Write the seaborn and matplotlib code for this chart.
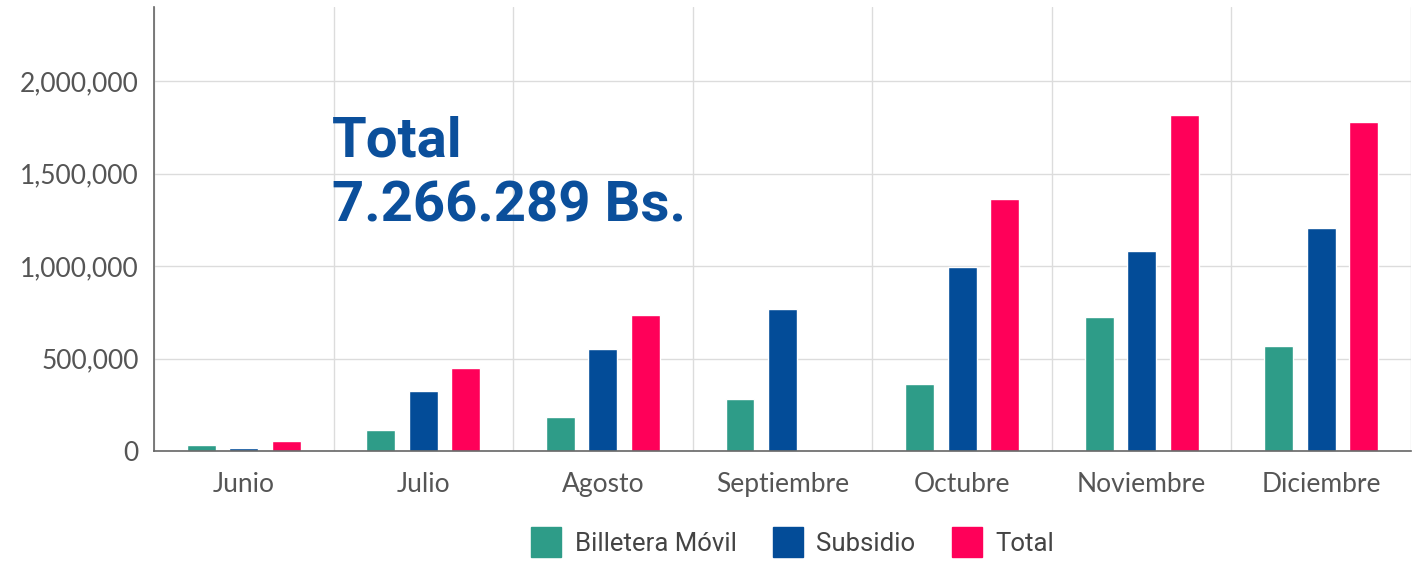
import matplotlib
matplotlib.use("Agg")
import matplotlib.pyplot as plt
from matplotlib.lines import Line2D
from matplotlib.ticker import FuncFormatter
import seaborn as sns
import pandas as pd
import numpy as np

meses = ["Junio", "Julio", "Agosto", "Septiembre", "Octubre", "Noviembre", "Diciembre"]
billetera = [34000, 115000, 184000, 283000, 364000, 725000, 570000]
subsidio = [18000, 328000, 552000, 769000, 994000, 1083000, 1209000]
total = [56000, 449000, 738000, 0, 1361000, 1815000, 1779000]
series = ["Billetera Móvil", "Subsidio", "Total"]
colores = ["#2e9c88", "#034c98", "#ff0059"]

data = pd.DataFrame({
    "mes": meses * 3,
    "serie": [series[0]] * 7 + [series[1]] * 7 + [series[2]] * 7,
    "monto": billetera + subsidio + total,
})

sns.set_style("white")
plt.rcParams["font.family"] = ["Lato", "DejaVu Sans"]

fig = plt.figure(figsize=(14.26, 5.61), dpi=100)
ax = fig.add_axes([0.108, 0.1955, 0.8815, 0.792])

sns.barplot(data=data, x="mes", y="monto", hue="serie", palette=colores,
            width=0.71, gap=0.32, saturation=1, legend=False, ax=ax)

# ejes
ax.set_ylim(0, 2400000)
ax.set_xlim(-0.5, 6.5)
ax.set_yticks(np.arange(0, 2000001, 500000))
ax.yaxis.set_major_formatter(FuncFormatter(lambda v, p: f"{int(v):,}"))
ax.set_xticks(range(7))
ax.set_xticklabels(meses)
ax.set_xticks(np.arange(-0.5, 7, 1), minor=True)
ax.set_xlabel("")
ax.set_ylabel("")

ax.grid(axis="y", which="major", color="#dcdcdc", linewidth=1)
ax.grid(axis="x", which="minor", color="#dcdcdc", linewidth=1)
ax.set_axisbelow(True)
for s in ["top", "right"]:
    ax.spines[s].set_visible(False)
for s in ["left", "bottom"]:
    ax.spines[s].set_color("#666666")
    ax.spines[s].set_linewidth(1.2)

ax.tick_params(axis="both", which="major", length=5, width=1, color="#666666",
               labelsize=19, labelcolor="#555555")
ax.tick_params(axis="x", which="major", pad=10)
ax.tick_params(axis="y", which="major", pad=6)
ax.tick_params(axis="x", which="minor", length=0)

# texto total
ax.text(0.49, 1593000, "Total", fontsize=40.5, fontweight="bold", color="#0b4f9b",
        family=["Roboto", "DejaVu Sans"])
ax.text(0.49, 1241000, "7.266.289 Bs.", fontsize=40.5, fontweight="bold", color="#0b4f9b",
        family=["Roboto", "DejaVu Sans"])

# leyenda
handles = [Line2D([], [], marker="s", linestyle="", markersize=21,
                  markerfacecolor=c, markeredgecolor=c) for c in colores]
leg = fig.legend(handles, series, loc="center", bbox_to_anchor=(0.552, 0.03), ncol=3,
                 frameon=False, handletextpad=0.1, columnspacing=1.0,
                 prop={"family": ["Roboto", "DejaVu Sans"], "size": 18.5})
for t in leg.get_texts():
    t.set_color("#444444")

fig.savefig("out.png", dpi=100)
